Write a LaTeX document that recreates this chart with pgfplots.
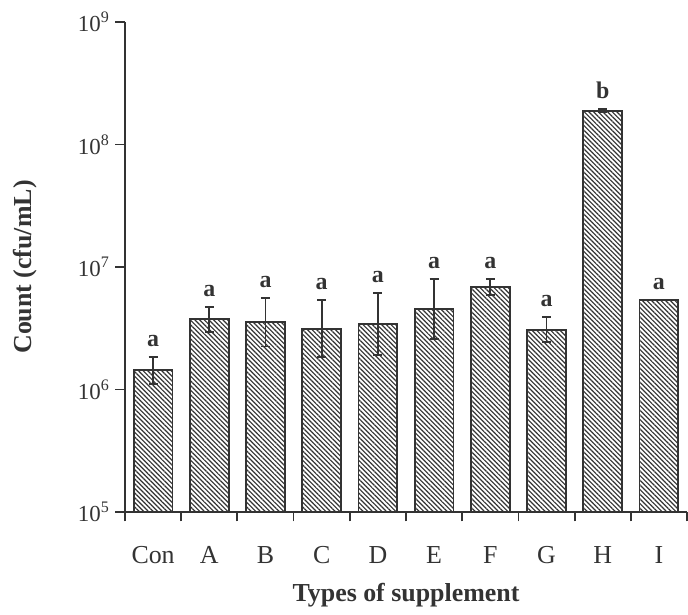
\documentclass[border=0pt]{standalone}
\usepackage{fontspec}
\setmainfont{Liberation Serif}
\usepackage{pgfplots}
\pgfplotsset{compat=1.18}
\usepackage{pgfplotstable}
\usetikzlibrary{patterns.meta}
\definecolor{ink}{HTML}{333333}

\pgfplotstableread{
x y ep em
0 1.44e6 0.41e6 0.33e6
1 3.74e6 0.95e6 0.78e6
2 3.56e6 2.02e6 1.32e6
3 3.14e6 2.24e6 1.31e6
4 3.42e6 2.75e6 1.51e6
5 4.57e6 3.41e6 1.99e6
6 6.90e6 1.13e6 0.99e6
7 3.08e6 0.80e6 0.62e6
8 1.87e8 0.09e8 0.04e8
}\bars

\pgfplotstableread{
x y
9 5.38e6
}\barsI

\pgfplotstableread{
x y lab
0 1.85e6 a
1 4.69e6 a
2 5.58e6 a
3 5.38e6 a
4 6.17e6 a
5 7.98e6 a
6 8.03e6 a
7 3.88e6 a
8 1.96e8 b
9 5.38e6 a
}\letters

\begin{document}
\begin{tikzpicture}
\begin{axis}[
  width=562bp, height=490bp, scale only axis,
  ymode=log, log origin y=infty,
  ymin=1e5, ymax=1e9, xmin=-0.5, xmax=9.5,
  clip=false,
  axis x line*=bottom, axis y line*=left,
  axis line style={draw=ink, line width=1.8bp},
  tick align=outside,
  tick style={draw=ink, line width=1.8bp},
  major tick length=9.5bp,
  ytick={1e5,1e6,1e7,1e8,1e9},
  yticklabels={10\textsuperscript{5},10\textsuperscript{6},10\textsuperscript{7},10\textsuperscript{8},10\textsuperscript{9}},
  yminorticks=false,
  yticklabel style={font=\fontsize{23}{27}\selectfont, text=ink, anchor=east, inner sep=0pt, xshift=-6bp},
  xtick={-0.5,0.5,1.5,2.5,3.5,4.5,5.5,6.5,7.5,8.5,9.5},
  xticklabels={},
  extra x ticks={0,1,2,3,4,5,6,7,8,9},
  extra x tick labels={Con,A,B,C,D,E,F,G,H,I},
  extra x tick style={major tick length=0pt, tick style={draw=none}},
  xticklabel style={font=\fontsize{26}{30}\selectfont, text=ink, anchor=north, inner sep=0pt, yshift=-34bp},
  every axis x label/.style={at={(axis description cs:0.5,-0.145)}, anchor=north, inner sep=0pt, font=\fontsize{26}{30}\selectfont\bfseries, text=ink},
  every axis y label/.style={at={(axis description cs:-0.178,0.5)}, rotate=90, anchor=center, inner sep=0pt, font=\fontsize{26}{30}\selectfont\bfseries, text=ink},
  xlabel={Types of supplement},
  ylabel={Count (cfu/mL)},
]
\addplot[ybar, bar width=0.69, draw=ink, line width=1.8bp,
  pattern={Lines[angle=-45,distance=3.3bp,line width=1.2bp]}, pattern color=ink,
  error bars/.cd, y dir=both, y explicit,
  error bar style={draw=ink, line width=1.8bp},
  error mark options={draw=ink, rotate=90, mark size=4.5bp, line width=1.8bp}]
  table[x=x, y=y, y error plus=ep, y error minus=em] {\bars};
\addplot[ybar, bar width=0.69, draw=ink, line width=1.8bp,
  pattern={Lines[angle=-45,distance=3.3bp,line width=1.2bp]}, pattern color=ink]
  table[x=x, y=y] {\barsI};
\addplot[draw=none, mark=none, nodes near coords, point meta=explicit symbolic,
  nodes near coords style={anchor=south, inner sep=0pt, yshift=10bp, font=\fontsize{24}{28}\selectfont\bfseries, text=ink}]
  table[x=x, y=y, meta=lab] {\letters};
\end{axis}
\pgfresetboundingbox
\path[use as bounding box] (-125bp,-103bp) rectangle (563bp,512bp);
\end{tikzpicture}
\end{document}
